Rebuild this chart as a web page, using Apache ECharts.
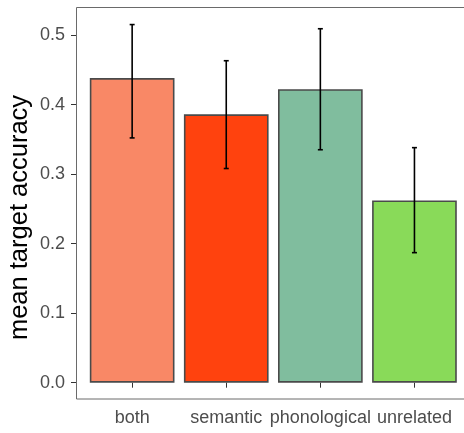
<!DOCTYPE html>
<html>
<head>
<meta charset="utf-8">
<script src="https://cdn.jsdelivr.net/npm/echarts@6/dist/echarts.min.js"></script>
<style>html,body{margin:0;padding:0;background:#fff}#c{width:464px;height:433px}</style>
</head>
<body>
<div id="c"></div>
<script>
var categories = ['both', 'semantic', 'phonological', 'unrelated'];
var meanValues = [0.438, 0.386, 0.422, 0.262];
var lowerValues = [0.352, 0.308, 0.335, 0.187];
var upperValues = [0.515, 0.463, 0.509, 0.338];
var barColors = ['#F98866', '#FF420E', '#80BD9E', '#89DA59'];
var yTicks = [0, 0.1, 0.2, 0.3, 0.4, 0.5];
var yTitle = 'mean target accuracy';

var FONT = 'Liberation Sans, Arial, Helvetica, sans-serif';
var chart = echarts.init(document.getElementById('c'), null, {renderer: 'canvas'});

var errData = categories.map(function (c, i) { return [i, lowerValues[i], upperValues[i]]; });

var option = {
  animation: false,
  backgroundColor: '#ffffff',
  grid: [
    {left: 85.1, top: 35, width: 376.4, bottom: 50.3}
  ],
  xAxis: [
    {
      type: 'category', data: categories, boundaryGap: true, offset: 16.6,
      axisLine: {show: false},
      axisTick: {show: true, alignWithLabel: true, length: 5, lineStyle: {color: '#333333', width: 1}},
      axisLabel: {color: '#4d4d4d', fontSize: 18, fontFamily: FONT, margin: 10, interval: 0}
    }
  ],
  yAxis: [
    {
      type: 'value', min: yTicks[0], max: yTicks[yTicks.length - 1], interval: 0.1,
      offset: 9.1,
      axisLine: {show: false},
      splitLine: {show: false},
      axisTick: {show: true, length: 5, lineStyle: {color: '#333333', width: 1}},
      axisLabel: {color: '#4d4d4d', fontSize: 18, fontFamily: FONT, margin: 11,
        formatter: function (v) { return v.toFixed(1); }}
    }
  ],
  graphic: [
    {
      type: 'rect', z: 10, silent: true,
      shape: {x: 76.5, y: 7.5, width: 400, height: 391.5},
      style: {fill: 'none', stroke: '#6a6a6a', lineWidth: 1}
    },
    {
      type: 'text', x: 20, y: 217.5, rotation: Math.PI / 2,
      style: {text: yTitle, fontSize: 25.5, fontFamily: FONT, fill: '#000000', align: 'center', verticalAlign: 'middle'}
    }
  ],
  series: [
    {
      type: 'bar', barWidth: '90%',
      data: meanValues.map(function (v, i) {
        return {value: v, itemStyle: {color: barColors[i]}};
      }),
      itemStyle: {borderColor: '#4a4a4a', borderWidth: 1.6}
    },
    {
      type: 'custom', z: 5,
      data: errData,
      renderItem: function (params, api) {
        var x = api.value(0);
        var lo = api.coord([x, api.value(1)]);
        var hi = api.coord([x, api.value(2)]);
        var cap = 2.5;
        var st = {stroke: '#000000', lineWidth: 1.6};
        return {
          type: 'group',
          children: [
            {type: 'line', shape: {x1: hi[0], y1: hi[1], x2: lo[0], y2: lo[1]}, style: st},
            {type: 'line', shape: {x1: hi[0] - cap, y1: hi[1], x2: hi[0] + cap, y2: hi[1]}, style: st},
            {type: 'line', shape: {x1: lo[0] - cap, y1: lo[1], x2: lo[0] + cap, y2: lo[1]}, style: st}
          ]
        };
      }
    }
  ]
};
chart.setOption(option);
</script>
</body>
</html>
